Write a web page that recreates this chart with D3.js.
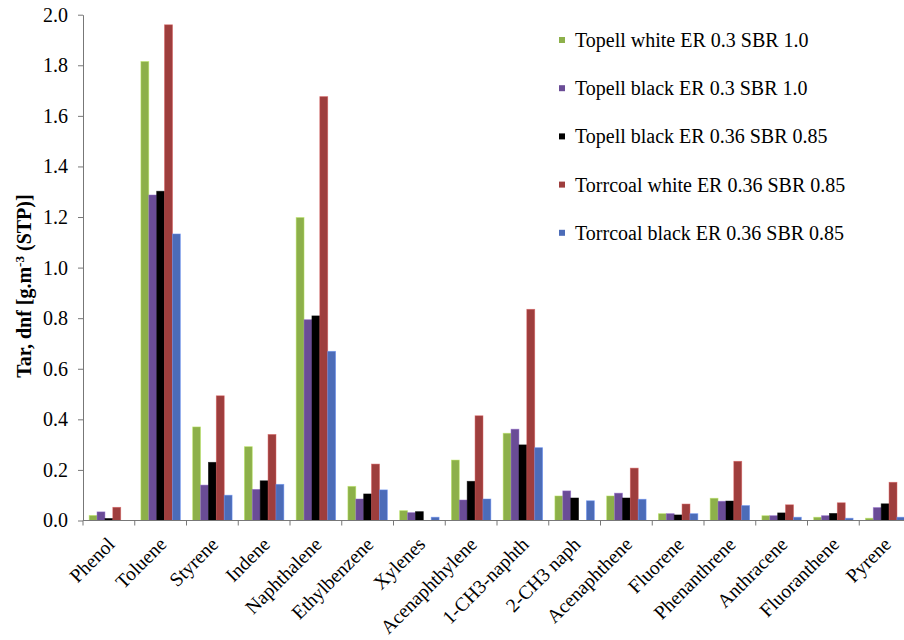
<!DOCTYPE html>
<html>
<head>
<meta charset="utf-8">
<script src="https://cdn.jsdelivr.net/npm/d3@7"></script>
<style>
  html, body { margin: 0; padding: 0; background: #fff; }
  svg { display: block; }
  svg text { font-family: "Liberation Serif", "DejaVu Serif", serif !important; fill: #000; }
</style>
</head>
<body>
<script>
const categories = ["Phenol", "Toluene", "Styrene", "Indene", "Naphthalene", "Ethylbenzene", "Xylenes",
  "Acenaphthylene", "1-CH3-naphth", "2-CH3 naph", "Acenaphthene", "Fluorene", "Phenanthrene",
  "Anthracene", "Fluoranthene", "Pyrene"];

const seriesNames = ["Topell white ER 0.3 SBR 1.0", "Topell black ER 0.3 SBR 1.0",
  "Topell black ER 0.36 SBR 0.85", "Torrcoal white ER 0.36 SBR 0.85", "Torrcoal black ER 0.36 SBR 0.85"];

const seriesColors = ["#8db04a", "#6a4c96", "#000000", "#9e3e3d", "#4c6cb8"];

const topellWhite03  = [0.020, 1.815, 0.370, 0.292, 1.198, 0.135, 0.039, 0.239, 0.345, 0.097, 0.097, 0.027, 0.088, 0.019, 0.013, 0.009];
const topellBlack03  = [0.034, 1.287, 0.140, 0.123, 0.794, 0.085, 0.031, 0.081, 0.361, 0.117, 0.108, 0.027, 0.076, 0.019, 0.019, 0.051];
const topellBlack036 = [0.008, 1.302, 0.230, 0.157, 0.809, 0.105, 0.035, 0.155, 0.299, 0.089, 0.089, 0.022, 0.077, 0.030, 0.028, 0.066];
const torrWhite036   = [0.052, 1.960, 0.493, 0.340, 1.676, 0.223, 0.000, 0.414, 0.835, 0.000, 0.207, 0.065, 0.234, 0.062, 0.070, 0.151];
const torrBlack036   = [0.000, 1.133, 0.100, 0.143, 0.669, 0.121, 0.013, 0.085, 0.288, 0.078, 0.084, 0.027, 0.059, 0.013, 0.009, 0.013];

const seriesValues = [topellWhite03, topellBlack03, topellBlack036, torrWhite036, torrBlack036];
const yTicks = [0, 0.2, 0.4, 0.6, 0.8, 1.0, 1.2, 1.4, 1.6, 1.8, 2.0];

const W = 904, H = 640;
const svg = d3.select("body").append("svg").attr("width", W).attr("height", H);

const x0 = d3.scaleBand().domain(categories).range([83, 911]).padding(0);
const x1 = d3.scaleBand().domain(seriesNames).range([0, x0.bandwidth()]).paddingInner(0).paddingOuter(0.78);
const y = d3.scaleLinear().domain([0, 2.0]).range([520.5, 14.7]);

// bars
const groups = svg.append("g").selectAll("g").data(categories).join("g")
  .attr("transform", d => `translate(${x0(d)},0)`);
groups.selectAll("rect")
  .data((c, i) => seriesNames.map((s, k) => ({ s, k, v: seriesValues[k][i] })))
  .join("rect")
  .filter(d => d.v > 0)
  .attr("x", d => x1(d.s))
  .attr("width", x1.bandwidth())
  .attr("y", d => y(d.v))
  .attr("height", d => y(0) - y(d.v))
  .attr("fill", d => seriesColors[d.k])
  .attr("stroke", d => d3.color(seriesColors[d.k]).brighter(0.8))
  .attr("stroke-opacity", 0.6)
  .attr("stroke-width", 0.8);

// y axis
const yAxis = svg.append("g").attr("transform", "translate(83,0)")
  .call(d3.axisLeft(y).tickValues(yTicks).tickFormat(d3.format(".1f")).tickSize(5).tickSizeOuter(0).tickPadding(10));
yAxis.attr("font-family", null);
yAxis.select(".domain").attr("stroke", "#777");
yAxis.selectAll(".tick line").attr("stroke", "#777");
yAxis.selectAll(".tick text").attr("font-size", 20).attr("fill", "#000");

// x axis baseline and ticks at category boundaries
const xg = svg.append("g");
xg.append("line").attr("x1", 83).attr("x2", 911).attr("y1", y(0)).attr("y2", y(0)).attr("stroke", "#777");
const bounds = categories.map(c => x0(c)).concat([x0(categories[categories.length - 1]) + x0.bandwidth()]);
xg.selectAll("line.tk").data(bounds).join("line").attr("class", "tk")
  .attr("x1", d => d).attr("x2", d => d).attr("y1", y(0)).attr("y2", y(0) + 5).attr("stroke", "#777");
xg.selectAll("text.cat").data(categories).join("text").attr("class", "cat")
  .attr("transform", d => `translate(${x0(d) + x0.bandwidth() / 2 + 7},${y(0) + 25}) rotate(-45)`)
  .attr("text-anchor", "end")
  .attr("font-size", 19.5)
  .text(d => d);

// y title
const yt = svg.append("text")
  .attr("transform", "translate(31,286) rotate(-90)")
  .attr("text-anchor", "middle")
  .attr("font-size", 20)
  .attr("font-weight", "bold");
yt.append("tspan").text("Tar, dnf [g.m");
yt.append("tspan").attr("baseline-shift", "super").attr("font-size", 13).text("-3");
yt.append("tspan").text(" (STP)]");

// legend
const leg = svg.append("g").selectAll("g").data(seriesNames).join("g")
  .attr("transform", (d, i) => `translate(559,${40 + i * 48.2})`);
leg.append("rect").attr("x", 0).attr("y", -3).attr("width", 6).attr("height", 6)
  .attr("fill", (d, i) => seriesColors[i]);
leg.append("text").attr("x", 16).attr("y", 0).attr("dy", "0.35em")
  .attr("font-size", 20).text(d => d);
</script>
</body>
</html>
